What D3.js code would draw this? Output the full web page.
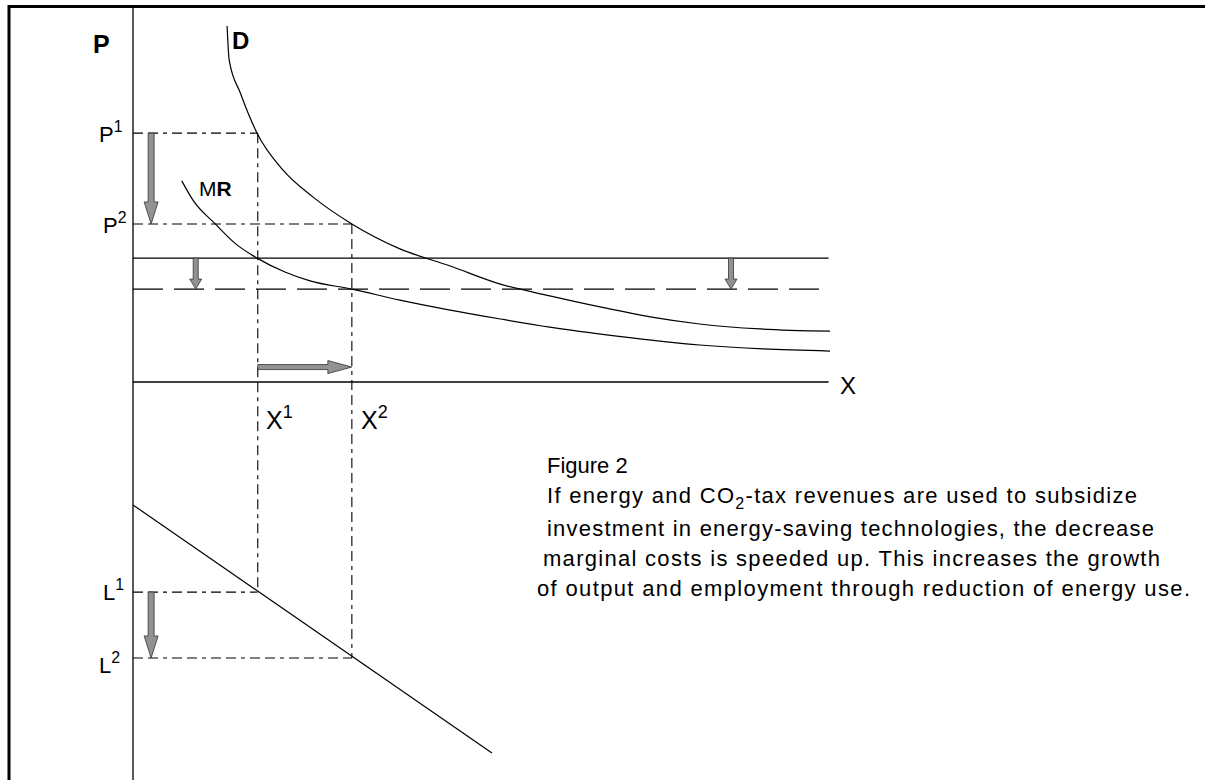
<!DOCTYPE html>
<html>
<head>
<meta charset="utf-8">
<script src="https://cdn.jsdelivr.net/npm/d3@7"></script>
<style>
  body { margin: 0; background: #fff; }
  svg { display: block; font-family: "Liberation Sans", Arial, sans-serif; }
</style>
</head>
<body>
<div id="chart"></div>
<script>
// quantity units along X, price units up the top panel, labour units down the bottom panel
var demand = [[13.5, 100], [13.8, 90.4], [15.4, 81.2], [17.8, 69.9], [21.5, 59.6], [25.8, 52], [31.4, 44.4],
              [38.3, 37.4], [45.5, 32.6], [52.7, 27.5], [59.8, 24.2], [67.0, 21.1], [74.2, 18.3],
              [81.3, 16.3], [90.0, 14.9], [100, 14.3]];
var marginalRevenue = [[7.0, 56.5], [8.6, 51.1], [11.8, 44.4], [14.6, 39.0], [17.8, 34.8], [21.8, 30.9],
                       [25.4, 28.4], [31.4, 26.1], [38.3, 23.0], [45.5, 20.2], [52.7, 17.7], [59.8, 15.4],
                       [69.4, 12.9], [81.3, 10.4], [90.4, 9.3], [100, 8.7]];
var prices = { P1: 69.9, P2: 44.4 };
var costs = { MC1: 34.8, MC2: 26.1 };
var outputs = { X1: 17.9, X2: 31.4 };
var labour = { L1: 52.2, L2: 33.9 };
var labourLine = [[0, 76.4], [51.5, 7.5]];
var captionLines = [
  ["Figure 2"],
  ["If energy and CO", "2", "-tax revenues are used to subsidize"],
  ["investment in energy-saving technologies, the decrease"],
  ["marginal costs is speeded up. This increases the growth"],
  ["of output and employment through reduction of energy use."]
];

var width = 1205, height = 780;

var xScale = d3.scaleLinear().domain([0, 100]).range([133, 830]);
var yScale = d3.scaleLinear().domain([0, 100]).range([382, 26]);
var lScale = d3.scaleLinear().domain([0, 100]).range([780, 420]);

var svg = d3.select("#chart").append("svg")
    .attr("width", width)
    .attr("height", height);

// frame
svg.append("line").attr("x1", 8).attr("x2", width).attr("y1", 6.5).attr("y2", 6.5)
    .attr("stroke", "#000").attr("stroke-width", 3);
svg.append("line").attr("x1", 9).attr("x2", 9).attr("y1", 5).attr("y2", height)
    .attr("stroke", "#000").attr("stroke-width", 3);

// axes
svg.append("line").attr("x1", xScale(0)).attr("x2", xScale(0)).attr("y1", 7).attr("y2", height)
    .attr("stroke", "#000").attr("stroke-width", 1.3);
svg.append("line").attr("x1", xScale(0)).attr("x2", xScale(99.8)).attr("y1", yScale(0)).attr("y2", yScale(0))
    .attr("stroke", "#000").attr("stroke-width", 1.3);

var dashShort = "10,5,10,5,4,5";

function hDash(y, x0, x1) {
    svg.append("line").attr("x1", x0).attr("x2", x1).attr("y1", y).attr("y2", y)
        .attr("stroke", "#000").attr("stroke-width", 1.1).attr("stroke-dasharray", dashShort);
}
function vDash(x, y0, y1) {
    svg.append("line").attr("x1", x).attr("x2", x).attr("y1", y0).attr("y2", y1)
        .attr("stroke", "#000").attr("stroke-width", 1.1).attr("stroke-dasharray", dashShort);
}

// guide lines
hDash(yScale(prices.P1), xScale(0), xScale(outputs.X1));
hDash(yScale(prices.P2), xScale(0), xScale(outputs.X2));
vDash(xScale(outputs.X1), yScale(prices.P1), lScale(labour.L1));
vDash(xScale(outputs.X2), yScale(prices.P2), lScale(labour.L2));
hDash(lScale(labour.L1), xScale(0), xScale(outputs.X1));
hDash(lScale(labour.L2), xScale(0), xScale(outputs.X2));

// marginal cost lines
svg.append("line").attr("x1", xScale(0)).attr("x2", xScale(99.8))
    .attr("y1", yScale(costs.MC1)).attr("y2", yScale(costs.MC1))
    .attr("stroke", "#000").attr("stroke-width", 1.2);
svg.append("line").attr("x1", xScale(0)).attr("x2", xScale(99))
    .attr("y1", yScale(costs.MC2)).attr("y2", yScale(costs.MC2))
    .attr("stroke", "#000").attr("stroke-width", 1.2).attr("stroke-dasharray", "30,11");

// curves
var line = d3.line()
    .x(function(d) { return xScale(d[0]); })
    .y(function(d) { return yScale(d[1]); })
    .curve(d3.curveMonotoneX);

svg.append("path").datum(demand).attr("d", line)
    .attr("fill", "none").attr("stroke", "#000").attr("stroke-width", 1.2);
svg.append("path").datum(marginalRevenue).attr("d", line)
    .attr("fill", "none").attr("stroke", "#000").attr("stroke-width", 1.2);

svg.append("line")
    .attr("x1", xScale(labourLine[0][0])).attr("y1", lScale(labourLine[0][1]))
    .attr("x2", xScale(labourLine[1][0])).attr("y2", lScale(labourLine[1][1]))
    .attr("stroke", "#000").attr("stroke-width", 1.2);

// block arrows
function arrow(x0, y0, x1, y1, shaft, head, headLen) {
    var len = Math.hypot(x1 - x0, y1 - y0);
    var a = Math.atan2(y1 - y0, x1 - x0) * 180 / Math.PI;
    var s = shaft / 2, h = head / 2, b = len - headLen;
    var pts = [[0, -s], [b, -s], [b, -h], [len, 0], [b, h], [b, s], [0, s]];
    svg.append("path")
        .attr("d", "M" + pts.join("L") + "Z")
        .attr("transform", "translate(" + x0 + "," + y0 + ") rotate(" + a + ")")
        .attr("fill", "#929292").attr("stroke", "#333").attr("stroke-width", 0.8);
}

arrow(xScale(2.6), yScale(prices.P1), xScale(2.6), yScale(prices.P2), 6, 14, 22);
arrow(xScale(9.0), yScale(costs.MC1), xScale(9.0), yScale(costs.MC2), 5, 12, 10);
arrow(xScale(85.8), yScale(costs.MC1), xScale(85.8), yScale(costs.MC2), 5, 12, 10);
arrow(xScale(outputs.X1), yScale(4.2), xScale(outputs.X2), yScale(4.2), 5, 13, 24);
arrow(xScale(2.6), lScale(labour.L1), xScale(2.6), lScale(labour.L2), 6, 14, 22);

// labels
function label(x, y, main, sup, size, weight) {
    var t = svg.append("text").attr("x", x).attr("y", y)
        .attr("font-size", size).attr("font-weight", weight || "normal").attr("fill", "#000");
    t.append("tspan").text(main);
    if (sup) t.append("tspan").attr("dy", -size * 0.45).attr("font-size", size * 0.72).text(sup);
    return t;
}

label(93, 53, "P", null, 25, "bold");
label(232, 49, "D", null, 24, "bold");
var mr = label(199, 196, "M", null, 21);
mr.append("tspan").attr("font-weight", "bold").text("R");
label(99, 142, "P", "1", 22);
label(103, 233, "P", "2", 22);
label(840, 394, "X", null, 24);
label(266, 429, "X", "1", 25);
label(361, 429, "X", "2", 25);
label(103, 600, "L", "1", 22);
label(99, 673, "L", "2", 22);

// caption
var captionX = [547, 547, 547, 543, 537];
var captionY = [473, 503, 536, 566, 596];
var captionW = [null, 590, 607, 617, 653];
captionLines.forEach(function(parts, i) {
    var t = svg.append("text")
        .attr("x", captionX[i]).attr("y", captionY[i])
        .attr("font-size", 22).attr("fill", "#000");
    if (captionW[i]) t.attr("textLength", captionW[i]).attr("lengthAdjust", "spacing");
    if (parts.length === 1) {
        t.text(parts[0]);
    } else {
        t.append("tspan").text(parts[0]);
        t.append("tspan").attr("dy", 6).attr("font-size", 16).text(parts[1]);
        t.append("tspan").attr("dy", -6).text(parts[2]);
    }
});
</script>
</body>
</html>
